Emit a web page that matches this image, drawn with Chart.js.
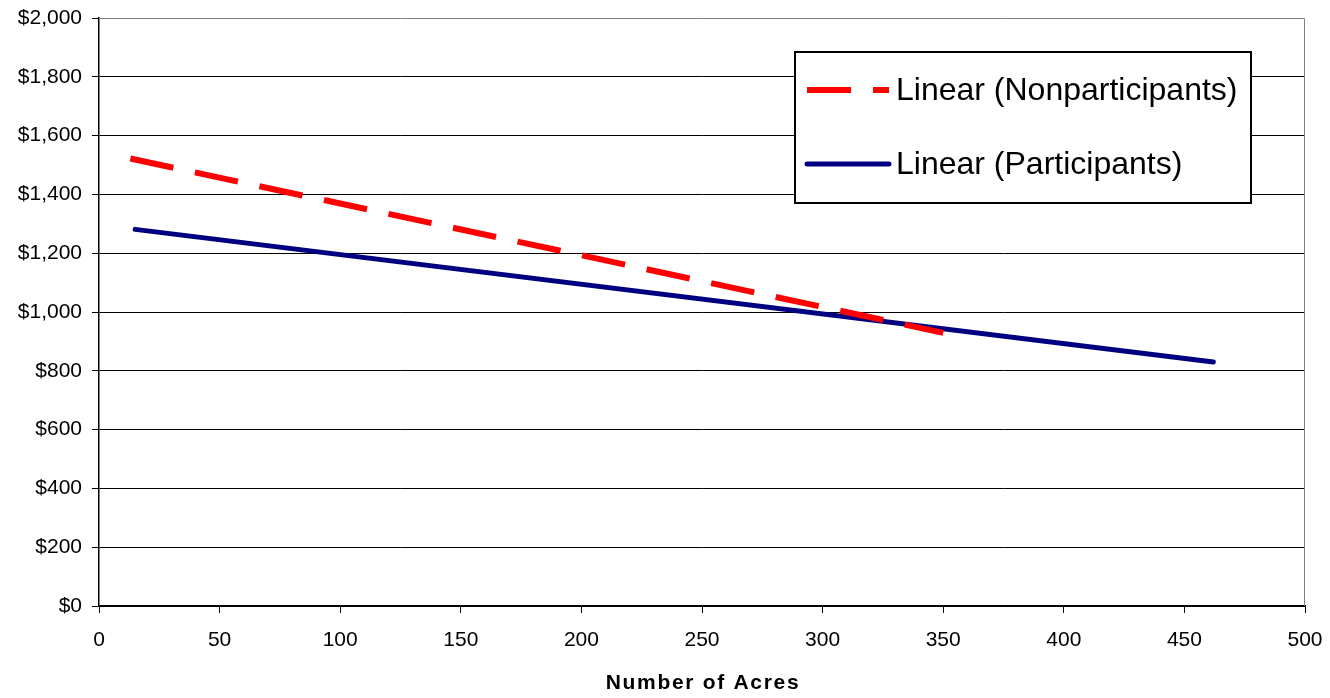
<!DOCTYPE html>
<html>
<head>
<meta charset="utf-8">
<script src="https://cdn.jsdelivr.net/npm/chart.js@4.4.0/dist/chart.umd.min.js"></script>
<style>
html,body{margin:0;padding:0;background:#fff;}
#wrap{width:1330px;height:698px;position:relative;}
</style>
</head>
<body>
<div id="wrap"><canvas id="c" width="1330" height="698"></canvas></div>
<script>
const seriesLabels = ['Linear (Nonparticipants)', 'Linear (Participants)'];
const nonX = [13, 350];
const nonY = [1522, 929];
const partX = [15, 462];
const partY = [1281, 830];
const xTicks = [0, 50, 100, 150, 200, 250, 300, 350, 400, 450, 500];
const yTicks = [0, 200, 400, 600, 800, 1000, 1200, 1400, 1600, 1800, 2000];
const xTitle = 'Number of Acres';

const FONT = '"Liberation Sans", Arial, sans-serif';
const toPts = (xs, ys) => xs.map((x, i) => ({x: x, y: ys[i]}));

const plotBorder = {
  id: 'plotBorder',
  beforeDatasetsDraw(chart) {
    const a = chart.chartArea, ctx = chart.ctx;
    ctx.save();
    ctx.strokeStyle = '#808080';
    ctx.lineWidth = 1;
    ctx.beginPath();
    ctx.moveTo(a.left, a.top + 0.5);
    ctx.lineTo(a.right - 0.5, a.top + 0.5);
    ctx.lineTo(a.right - 0.5, a.bottom);
    ctx.stroke();
    ctx.restore();
  }
};

const boxLegend = {
  id: 'boxLegend',
  afterDraw(chart) {
    const ctx = chart.ctx;
    const bx = 795, by = 52, bw = 456, bh = 151;
    ctx.save();
    ctx.fillStyle = '#fff';
    ctx.fillRect(bx, by, bw, bh);
    ctx.strokeStyle = '#000';
    ctx.lineWidth = 2;
    ctx.strokeRect(bx, by, bw, bh);
    const rows = [90, 164];
    chart.data.datasets.forEach((ds, i) => {
      const y = rows[i];
      ctx.beginPath();
      ctx.strokeStyle = ds.borderColor;
      ctx.lineWidth = ds.borderWidth;
      ctx.lineCap = ds.borderCapStyle || 'butt';
      ctx.setLineDash(ds.borderDash || []);
      ctx.moveTo(807, y);
      ctx.lineTo(889, y);
      ctx.stroke();
      ctx.setLineDash([]);
      ctx.fillStyle = '#000';
      ctx.font = '32px ' + FONT;
      ctx.textBaseline = 'middle';
      ctx.textAlign = 'left';
      ctx.fillText(ds.label, 896, y + 1);
    });
    ctx.restore();
  }
};

const axisTitle = {
  id: 'axisTitle',
  afterDraw(chart) {
    const ctx = chart.ctx;
    ctx.save();
    ctx.fillStyle = '#000';
    ctx.font = 'bold 21px ' + FONT;
    ctx.letterSpacing = '1.7px';
    ctx.textAlign = 'center';
    ctx.textBaseline = 'middle';
    ctx.fillText(xTitle, 703, 683);
    ctx.restore();
  }
};

new Chart(document.getElementById('c'), {
  type: 'scatter',
  data: {
    datasets: [
      {
        label: seriesLabels[0],
        data: toPts(nonX, nonY),
        showLine: true,
        borderColor: '#FF0000',
        backgroundColor: '#FF0000',
        borderWidth: 6,
        borderDash: [44, 22],
        borderCapStyle: 'butt',
        pointRadius: 0,
        pointHoverRadius: 0
      },
      {
        label: seriesLabels[1],
        data: toPts(partX, partY),
        showLine: true,
        borderColor: '#000080',
        backgroundColor: '#000080',
        borderWidth: 5,
        borderCapStyle: 'round',
        pointRadius: 0,
        pointHoverRadius: 0
      }
    ]
  },
  options: {
    responsive: false,
    animation: false,
    devicePixelRatio: 1,
    layout: {padding: {top: 18, right: 25, bottom: 0, left: 0}},
    plugins: {
      legend: {display: false},
      tooltip: {enabled: false}
    },
    scales: {
      x: {
        type: 'linear',
        min: 0, max: 500,
        afterBuildTicks: s => { s.ticks = xTicks.map(v => ({value: v})); },
        afterFit: s => { s.height = 92; s.paddingLeft = 0; s.paddingRight = 0; },
        ticks: {
          color: '#000',
          font: {family: FONT, size: 21},
          padding: 15,
          maxRotation: 0,
          autoSkip: false
        },
        grid: {drawOnChartArea: false, drawTicks: true, tickLength: 7, tickColor: '#000', lineWidth: 1},
        border: {display: true, color: '#000', width: 1.5}
      },
      y: {
        min: 0, max: 2000,
        afterBuildTicks: s => { s.ticks = yTicks.map(v => ({value: v})); },
        afterFit: s => { s.width = 99; s.paddingTop = 0; s.paddingBottom = 0; },
        ticks: {
          color: '#000',
          font: {family: FONT, size: 21},
          padding: 10,
          autoSkip: false,
          callback: v => '$' + v.toLocaleString('en-US')
        },
        grid: {
          color: ctx => (ctx.tick && ctx.tick.value === 2000) ? 'rgba(0,0,0,0)' : '#000',
          lineWidth: 1,
          drawTicks: true,
          tickLength: 7,
          tickColor: '#000'
        },
        border: {display: true, color: '#000', width: 1.5}
      }
    }
  },
  plugins: [plotBorder, boxLegend, axisTitle]
});
</script>
</body>
</html>
